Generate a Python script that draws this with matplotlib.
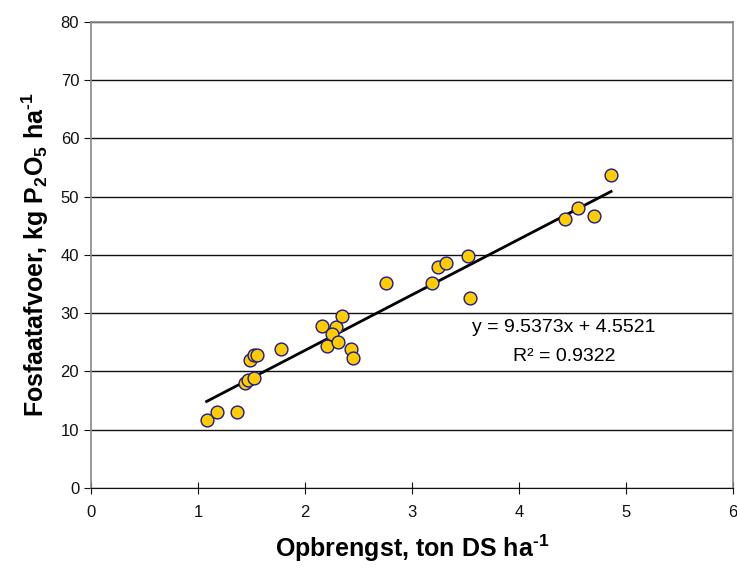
import matplotlib.pyplot as plt
import numpy as np

plt.rcParams['font.family'] = ['Liberation Sans', 'DejaVu Sans']
plt.rcParams['mathtext.fontset'] = 'custom'
plt.rcParams['mathtext.rm'] = 'Liberation Sans:bold'
plt.rcParams['mathtext.bf'] = 'Liberation Sans:bold'
plt.rcParams['mathtext.default'] = 'rm'

# opbrengst (ton DS/ha) en fosfaatafvoer (kg P2O5/ha)
opbrengst = [1.08, 1.18, 1.36, 1.44, 1.47, 1.52, 1.49, 1.52, 1.55, 1.78,
             2.16, 2.29, 2.35, 2.25, 2.21, 2.31, 2.43, 2.45,
             2.76, 3.19, 3.24, 3.32, 3.52, 3.54, 4.43, 4.55, 4.70, 4.86]
fosfaat = [11.7, 13.0, 13.0, 18.0, 18.6, 18.9, 22.0, 22.9, 22.9, 23.8,
           27.8, 27.6, 29.6, 26.5, 24.4, 25.1, 23.9, 22.3,
           35.2, 35.2, 38.0, 38.7, 39.9, 32.7, 46.2, 48.1, 46.7, 53.7]
helling = 9.5373
intercept = 4.5521
r2 = 0.9322

fig = plt.figure(figsize=(7.37, 5.7), dpi=100)
ax = fig.add_axes([0.1235, 0.1439, 0.8711, 0.8175])

ax.set_xlim(0, 6)
ax.set_ylim(0, 80)
ax.set_xticks(range(0, 7))
ax.set_yticks(range(0, 81, 10))

# horizontale hulplijnen
ax.set_axisbelow(True)
ax.yaxis.grid(True, color='#111111', lw=1)

xs = np.array([min(opbrengst), max(opbrengst)])
ax.plot(xs, helling * xs + intercept, color='black', lw=2, zorder=2)
ax.scatter(opbrengst, fosfaat, s=85, facecolor='#FFCC00', edgecolor='#1a1a8c',
           linewidth=1, zorder=3)

for side in ['top', 'right', 'left']:
    ax.spines[side].set_color('#888888')
    ax.spines[side].set_linewidth(1.2)
ax.spines['bottom'].set_color('#111111')

ax.tick_params(axis='x', direction='inout', length=8, labelsize=12, colors='#111111', pad=8)
ax.tick_params(axis='y', direction='out', length=5, labelsize=12, colors='#111111')

ax.set_xlabel('Opbrengst, ton DS ha$^{\\text{-1}}$', fontsize=18, fontweight='bold', labelpad=9)
ax.set_ylabel('Fosfaatafvoer, kg P$_{2}$O$_{5}$ ha$^{\\text{-1}}$',
              fontsize=18, fontweight='bold', labelpad=7)

ax.text(4.42, 27.6, f'y = {helling}x + {intercept}', fontsize=14, ha='center', va='center')
ax.text(4.42, 22.6, f'R\u00b2 = {r2}', fontsize=14, ha='center', va='center')

fig.savefig('out.png', dpi=100)
